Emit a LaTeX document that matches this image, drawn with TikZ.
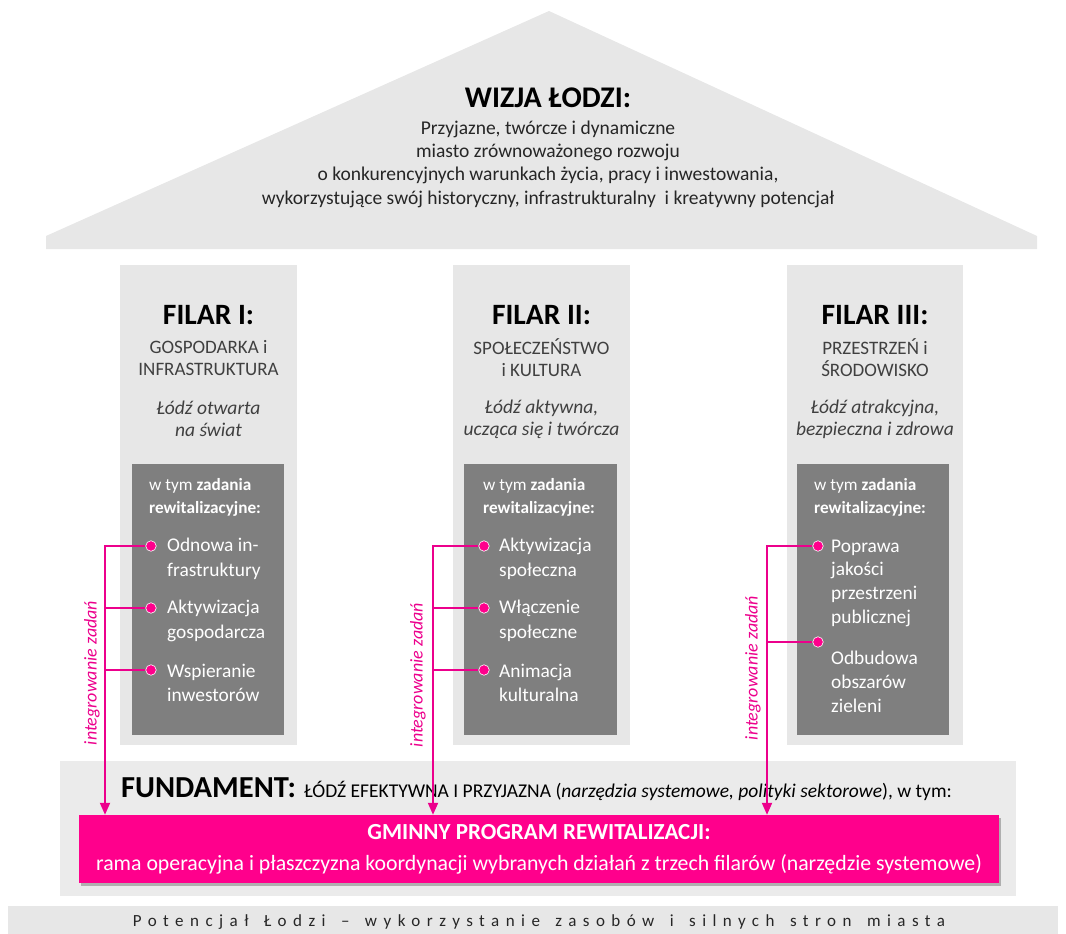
\documentclass[tikz,border=0pt]{standalone}
\usepackage{fontspec}
\setmainfont{Carlito}
\newfontfamily\spacedfont[LetterSpace=38,WordSpace=1.5]{Carlito}
\usetikzlibrary{arrows.meta,shadows}
\definecolor{pk}{RGB}{255,0,140}
\definecolor{pkl}{RGB}{236,0,140}
\definecolor{lg}{RGB}{231,231,231}
\definecolor{fg}{RGB}{235,235,235}
\definecolor{dg}{RGB}{127,127,127}
\definecolor{tx}{RGB}{64,64,64}
\definecolor{rt}{RGB}{38,38,38}
\begin{document}
\begin{tikzpicture}[x=1pt,y=-1pt,
  pillar/.style={fill=lg,inner sep=0pt,minimum width=177pt,minimum height=480pt},
  darkbox/.style={fill=dg,inner sep=0pt,minimum width=152pt,minimum height=271pt},
  ftitle/.style={font=\fontsize{29.5}{30}\selectfont\bfseries,text=black,inner sep=0pt},
  fsub/.style={font=\fontsize{19}{22}\selectfont,text=tx,align=center,inner sep=0pt},
  fmotto/.style={font=\fontsize{19.5}{22}\selectfont\itshape,text=tx,align=center,inner sep=0pt},
  dhead/.style={font=\fontsize{17.2}{23}\selectfont,text=white,align=left,anchor=west,inner sep=0pt},
  item/.style={font=\fontsize{19.4}{24.5}\selectfont,text=white,align=left,anchor=west,inner sep=0pt},
  item3/.style={font=\fontsize{19.4}{23.7}\selectfont,text=white,align=left,anchor=west,inner sep=0pt},
  dot/.style={circle,fill=pk,draw=white,line width=0.6pt,minimum size=10.5pt,inner sep=0pt},
  link/.style={draw=pkl,line width=1.9pt},
  trunk/.style={draw=pkl,line width=1.9pt,-{Triangle[width=10pt,length=12pt]}},
  vlabel/.style={font=\fontsize{18}{20}\selectfont\itshape,text=pkl,rotate=90,inner sep=0pt}
]
\useasboundingbox (0,0) rectangle (1066,934);

% roof
\fill[lg] (46,249) -- (46,236) -- (549,11) -- (1037,236) -- (1037,249) -- cycle;
\node[font=\fontsize{30}{32}\selectfont\bfseries,text=black,inner sep=0pt] (wiz) at (548,98) {WIZJA ŁODZI:};
\node[font=\fontsize{19.5}{23.3}\selectfont,text=rt,align=center,inner sep=0pt] (wizt) at (548,164)
 {Przyjazne, twórcze i dynamiczne\\miasto zrównoważonego rozwoju\\o konkurencyjnych warunkach życia, pracy i inwestowania,\\wykorzystujące swój historyczny, infrastrukturalny\ \ i kreatywny potencjał};

% pillars
\node[pillar] (p1) at (208.5,505) {};
\node[pillar] (p2) at (541.5,505) {};
\node[pillar,minimum width=176pt] (p3) at (875,505) {};
\node[darkbox] (b1) at (208,599.5) {};
\node[darkbox,minimum width=153pt] (b2) at (540.5,599.5) {};
\node[darkbox] (b3) at (873,599.5) {};

\node[ftitle] (t1) at (208.5,315) {FILAR I:};
\node[ftitle] (t2) at (541.5,315) {FILAR II:};
\node[ftitle] (t3) at (875,315) {FILAR III:};
\node[fsub] (s1) at (208.5,358) {GOSPODARKA i\\INFRASTRUKTURA};
\node[fsub] (s2) at (541.5,358) {SPOŁECZEŃSTWO\\i KULTURA};
\node[fsub] (s3) at (875,358) {PRZESTRZEŃ i\\ŚRODOWISKO};
\node[fmotto] (m1) at (208.5,419) {Łódź otwarta\\na świat};
\node[fmotto] (m2) at (541.5,419) {Łódź aktywna,\\ucząca się i twórcza};
\node[fmotto] (m3) at (875,419) {Łódź atrakcyjna,\\bezpieczna i zdrowa};

\node[dhead] (h1) at (149,497) {w tym \textbf{zadania}\\\textbf{rewitalizacyjne:}};
\node[dhead] (h2) at (483,497) {w tym \textbf{zadania}\\\textbf{rewitalizacyjne:}};
\node[dhead] (h3) at (814,497) {w tym \textbf{zadania}\\\textbf{rewitalizacyjne:}};

\node[item] (i11) at (167,559) {Odnowa in-\\frastruktury};
\node[item] (i12) at (167,621) {Aktywizacja\\gospodarcza};
\node[item] (i13) at (167,683) {Wspieranie\\inwestorów};
\node[item] (i21) at (499,559) {Aktywizacja\\społeczna};
\node[item] (i22) at (499,621) {Włączenie\\społeczne};
\node[item] (i23) at (499,683) {Animacja\\kulturalna};
\node[item3] (i31) at (831,583) {Poprawa\\jakości\\przestrzeni\\publicznej};
\node[item3] (i32) at (831,682) {Odbudowa\\obszarów\\zieleni};

% foundation
\fill[fg] (60,761) rectangle (1016,896);
\node[anchor=base west,inner sep=0pt,text=black] (fund) at (121,797)
 {{\fontsize{30.5}{32}\selectfont\bfseries FUNDAMENT:}\hspace{8pt}{\fontsize{19.5}{20}\selectfont ŁÓDŹ EFEKTYWNA I PRZYJAZNA (\textit{narzędzia systemowe, polityki sektorowe}), w tym:}};
\node[fill=pk,minimum width=920pt,minimum height=68pt,inner sep=0pt,
  drop shadow={shadow xshift=2pt,shadow yshift=-3pt,opacity=0.45,fill=black!60}] (gpr) at (539,849) {};
\node[font=\fontsize{23}{25}\selectfont\bfseries,text=white,inner sep=0pt] (gprt) at (539,832) {GMINNY PROGRAM REWITALIZACJI:};
\node[font=\fontsize{21.8}{23}\selectfont,text=white,inner sep=0pt] (gprs) at (539,864) {rama operacyjna i płaszczyzna koordynacji wybranych działań z trzech filarów (narzędzie systemowe)};

% bottom bar
\fill[lg] (8,906) rectangle (1058,934);
\node[font=\spacedfont\fontsize{17}{18}\selectfont,text=rt,inner sep=0pt] (pot) at (539,922)
 {Potencjał Łodzi – wykorzystanie zasobów i silnych stron miasta};

% connectors
\node[dot] (d11) at (151,546) {};
\node[dot] (d12) at (151,608) {};
\node[dot] (d13) at (151,670) {};
\node[dot] (d21) at (484,546) {};
\node[dot] (d22) at (484,608) {};
\node[dot] (d23) at (484,670) {};
\node[dot] (d31) at (818,546) {};
\node[dot] (d32) at (818,642) {};
\coordinate (c1) at (105,546);
\coordinate (c2) at (433,546);
\coordinate (c3) at (767,546);
\draw[link] (d11.west) -- (c1);
\draw[link] (d12.west) -- (d12.west -| c1);
\draw[link] (d13.west) -- (d13.west -| c1);
\draw[link] (d21.west) -- (c2);
\draw[link] (d22.west) -- (d22.west -| c2);
\draw[link] (d23.west) -- (d23.west -| c2);
\draw[link] (d31.west) -- (c3);
\draw[link] (d32.west) -- (d32.west -| c3);
\draw[trunk] ([yshift=0.95pt]c1) -- (c1 |- gpr.north);
\draw[trunk] ([yshift=0.95pt]c2) -- (c2 |- gpr.north);
\draw[trunk] ([yshift=0.95pt]c3) -- (c3 |- gpr.north);
\node[vlabel] (l1) at (92,673) {integrowanie zadań};
\node[vlabel] (l2) at (418,675) {integrowanie zadań};
\node[vlabel] (l3) at (753,668) {integrowanie zadań};
\end{tikzpicture}
\end{document}
